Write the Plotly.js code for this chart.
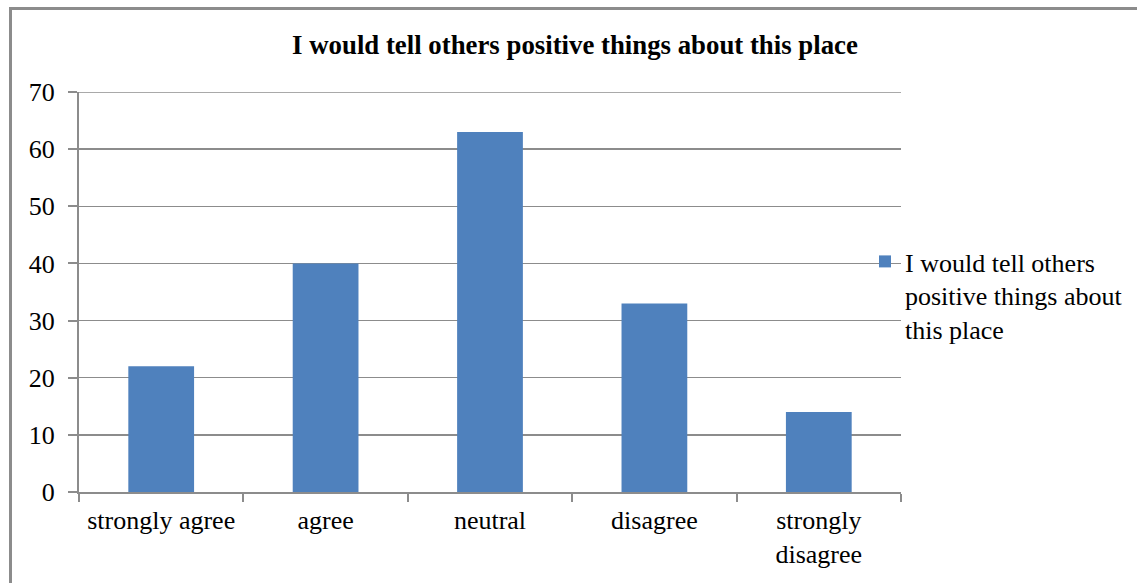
<!DOCTYPE html>
<html>
<head>
<meta charset="utf-8">
<script src="https://cdn.plot.ly/plotly-3.0.1.min.js"></script>
<style>
  html, body { margin: 0; padding: 0; background: #ffffff; }
  #chart { width: 1137px; height: 583px; }
</style>
</head>
<body>
<div id="chart"></div>
<script>
// Responses to the statement, one bar per answer
const chartTitle = "I would tell others positive things about this place";
const categories = ["strongly agree", "agree", "neutral", "disagree", "strongly<br>disagree"];
const counts = [22, 40, 63, 33, 14];
const seriesName = "I would tell others<br>positive things about<br>this place";
const yTicks = [0, 10, 20, 30, 40, 50, 60, 70];

const serif = "'Liberation Serif', 'Times New Roman', serif";
const axisGrey = "#8c8c8c";
const yMax = 70;

const trace = {
  type: "bar",
  x: categories,
  y: counts,
  name: seriesName,
  showlegend: true,
  width: 0.4,
  marker: { color: "#4f81bd", line: { width: 0 } },
  hoverinfo: "x+y"
};

const layout = {
  width: 1137,
  height: 583,
  paper_bgcolor: "#ffffff",
  plot_bgcolor: "#ffffff",
  margin: { l: 79, r: 236, t: 92, b: 91, pad: 0, autoexpand: false },
  font: { family: serif, size: 26, color: "#000000" },
  title: {
    text: "<b>" + chartTitle + "</b>",
    font: { family: serif, size: 26.8, color: "#000000" },
    x: 575 / 1137,
    xanchor: "center",
    y: 1 - 45 / 583,
    yanchor: "middle"
  },
  xaxis: {
    type: "category",
    showgrid: false,
    showline: true,
    linecolor: axisGrey,
    linewidth: 2,
    ticks: "outside",
    tickson: "boundaries",
    ticklen: 8,
    tickcolor: axisGrey,
    tickwidth: 2,
    ticklabelstandoff: 4,
    tickfont: { family: serif, size: 26, color: "#000000" },
    zeroline: false,
    fixedrange: true
  },
  yaxis: {
    range: [0, yMax],
    tickvals: yTicks,
    ticktext: yTicks.map(String),
    showgrid: true,
    gridcolor: axisGrey,
    gridwidth: 1.5,
    showline: true,
    linecolor: axisGrey,
    linewidth: 2,
    ticks: "outside",
    ticklen: 9,
    tickcolor: axisGrey,
    tickwidth: 2,
    ticklabelstandoff: 8,
    tickfont: { family: serif, size: 26, color: "#000000" },
    zeroline: false,
    fixedrange: true
  },
  legend: {
    x: (905 - 40 - 901) / 822 + 1,
    xanchor: "left",
    y: 1 - (238 - 92) / 400,
    yanchor: "top",
    valign: "top",
    bgcolor: "rgba(0,0,0,0)",
    borderwidth: 0,
    font: { family: serif, size: 26, color: "#000000" },
    tracegroupgap: 0
  },
  shapes: [
    // top gridline at the range maximum
    {
      type: "line",
      xref: "paper", yref: "y",
      x0: 0, x1: 1, y0: yMax, y1: yMax,
      line: { color: axisGrey, width: 1.5 },
      layer: "below"
    },
    // outer frame around the chart
    {
      type: "rect",
      xref: "paper", yref: "paper",
      x0: (10.5 - 79) / 822, x1: 1.4,
      y0: -0.5, y1: 1 + (92 - 8.5) / 400,
      line: { color: axisGrey, width: 3 },
      fillcolor: "rgba(0,0,0,0)",
      layer: "below"
    }
  ],
  showlegend: true
};

Plotly.newPlot("chart", [trace], layout, { displayModeBar: false, staticPlot: true });
</script>
</body>
</html>
